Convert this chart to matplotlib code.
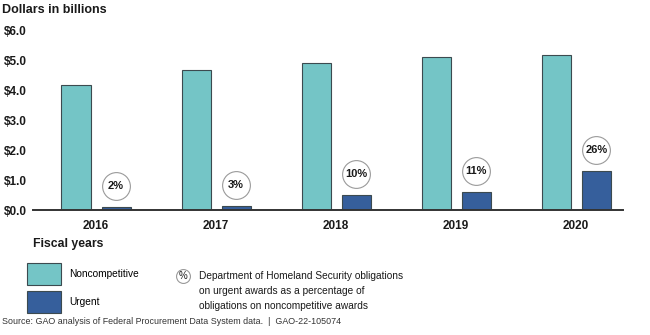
import matplotlib
matplotlib.use("Agg")
import matplotlib.pyplot as plt
from matplotlib.patches import Patch
from matplotlib.lines import Line2D

# Data (dollars in billions)
years = ["2016", "2017", "2018", "2019", "2020"]
noncompetitive = [4.17, 4.68, 4.89, 5.09, 5.18]
urgent = [0.10, 0.12, 0.51, 0.60, 1.31]
urgent_pct = ["2%", "3%", "10%", "11%", "26%"]
y_ticks = [0, 1, 2, 3, 4, 5, 6]

teal = "#74c5c6"
blue = "#365f9c"
edge = "#3c4a4f"
txt = "#1a1a1a"

plt.rcParams["font.family"] = ["Liberation Sans", "DejaVu Sans"]

fig = plt.figure(figsize=(6.5, 3.35), dpi=100)
ax = fig.add_axes([0.0508, 0.3731, 0.9077, 0.5373])

x = list(range(len(years)))
w = 0.242
off = 0.167
ax.bar([i - off for i in x], noncompetitive, w, color=teal, edgecolor=edge, linewidth=0.8, zorder=2)
ax.bar([i + off for i in x], urgent, w, color=blue, edgecolor=edge, linewidth=0.8, zorder=2)

# percentage circles above the urgent bars
for i, (u, p) in enumerate(zip(urgent, urgent_pct)):
    ax.scatter(i + off, u + 0.7, s=400, facecolor="white", edgecolor="#9a9a9a",
               linewidth=0.8, zorder=3, clip_on=False)
    ax.text(i + off, u + 0.7, p, ha="center", va="center", fontsize=8,
            fontweight="bold", color=txt, zorder=4)

ax.set_xlim(-0.525, 4.39)
ax.set_ylim(0, 6)
ax.set_yticks(y_ticks)
ax.set_yticklabels([f"${v:.1f}" for v in y_ticks], fontsize=8.5, fontweight="bold", color=txt)
ax.set_xticks(x)
ax.set_xticklabels(years, fontsize=8.5, fontweight="bold", color=txt)
ax.tick_params(length=0)
ax.tick_params(axis="x", pad=7.5)
ax.tick_params(axis="y", pad=4.5)
for s in ["top", "right", "left"]:
    ax.spines[s].set_visible(False)
ax.spines["bottom"].set_color("#333333")
ax.spines["bottom"].set_linewidth(1.4)
ax.spines["bottom"].set_zorder(5)

fig.text(2 / 650, 1 - 10 / 335, "Dollars in billions", fontsize=9, fontweight="bold",
         va="center", color=txt)
fig.text(33 / 650, 1 - 244 / 335, "Fiscal years", fontsize=8.8, fontweight="bold",
         va="center", color=txt)

handles = [Patch(facecolor=teal, edgecolor=edge, linewidth=0.8),
           Patch(facecolor=blue, edgecolor=edge, linewidth=0.8)]
fig.legend(handles, ["Noncompetitive", "Urgent"], loc="upper left",
           bbox_to_anchor=(27 / 650, 1 - 263.4 / 335), frameon=False, borderpad=0,
           borderaxespad=0, handlelength=3.35, handleheight=2.95, labelspacing=0.6,
           handletextpad=0.8, prop={"size": 7.3})

fig.add_artist(Line2D([183 / 650], [1 - 276 / 335], marker="o", markersize=10,
                      markerfacecolor="white", markeredgecolor="#9a9a9a",
                      markeredgewidth=0.8, transform=fig.transFigure))
fig.text(183 / 650, 1 - 276 / 335, "%", fontsize=7, ha="center", va="center", color=txt)
fig.text(199 / 650, 1 - 271 / 335,
         "Department of Homeland Security obligations\n"
         "on urgent awards as a percentage of\n"
         "obligations on noncompetitive awards",
         fontsize=7.3, va="top", linespacing=1.6, color=txt)

fig.text(2 / 650, 1 - 321 / 335,
         "Source: GAO analysis of Federal Procurement Data System data.  |  GAO-22-105074",
         fontsize=6.4, va="center", color="#333333")

fig.savefig("out.png", dpi=100)
